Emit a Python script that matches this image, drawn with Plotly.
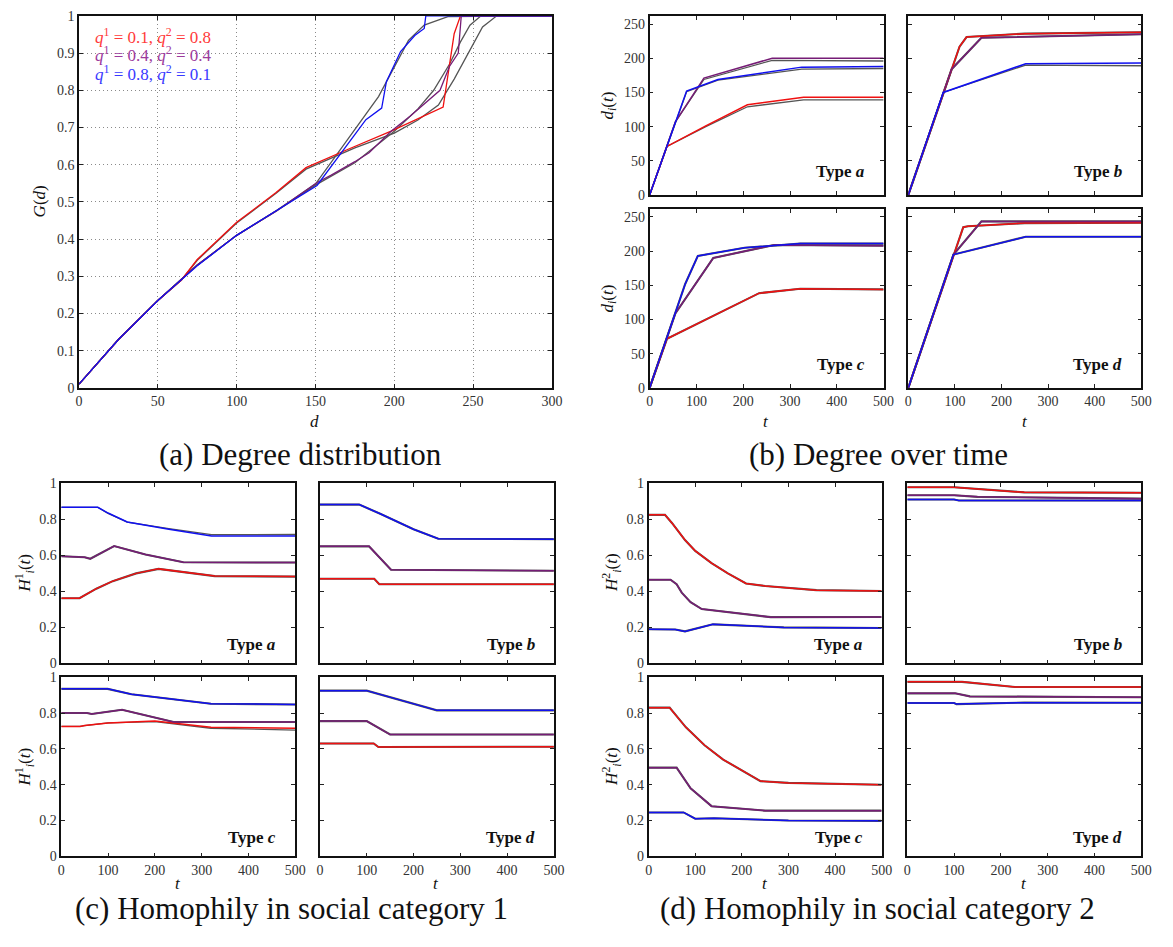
import plotly.graph_objects as go

W, H = 1173, 947
SERIF = "Liberation Serif, 'Times New Roman', Times, 'DejaVu Serif', serif"
RED, PURPLE, BLUE, SIM = "#f01010", "#761c76", "#1010f0", "#555555"

# ---------------- Panel (a): degree distribution G(d) ----------------
a_red_d = [0, 25, 50, 65, 75, 100, 125, 144, 170, 198, 231, 238, 242, 300]
a_red_G = [0.01, 0.13, 0.235, 0.29, 0.345, 0.445, 0.525, 0.592, 0.64, 0.69, 0.755, 0.952, 1.0, 1.0]
a_purple_d = [0, 25, 50, 75, 100, 125, 151, 160, 175, 184, 198, 210, 229, 235, 240.6, 242.5, 300]
a_purple_G = [0.01, 0.13, 0.235, 0.33, 0.41, 0.475, 0.552, 0.572, 0.608, 0.632, 0.69, 0.73, 0.80, 0.864, 0.90, 1.0, 1.0]
a_blue_d = [0, 25, 50, 75, 100, 125, 151, 182, 192, 195, 204, 213, 219, 220, 300]
a_blue_G = [0.01, 0.13, 0.235, 0.328, 0.41, 0.475, 0.544, 0.721, 0.752, 0.823, 0.904, 0.947, 0.966, 1.0, 1.0]
a_red_sim_d = [0, 25, 50, 65, 75, 100, 125, 144, 175, 200, 215, 228, 238, 248, 256, 265, 300]
a_red_sim_G = [0.01, 0.13, 0.235, 0.29, 0.343, 0.443, 0.523, 0.588, 0.645, 0.685, 0.72, 0.76, 0.83, 0.91, 0.97, 1.0, 1.0]
a_purple_sim_d = [0, 25, 50, 75, 100, 125, 150, 175, 200, 215, 225, 235, 242, 248, 255, 300]
a_purple_sim_G = [0.01, 0.13, 0.235, 0.33, 0.41, 0.475, 0.545, 0.605, 0.69, 0.75, 0.80, 0.87, 0.93, 0.975, 1.0, 1.0]
a_blue_sim_d = [0, 25, 50, 75, 100, 125, 150, 169, 190, 209, 219, 234, 300]
a_blue_sim_G = [0.01, 0.13, 0.235, 0.33, 0.41, 0.476, 0.548, 0.659, 0.783, 0.934, 0.975, 0.998, 1.0]

a_legend = ["<i>q</i><sup>1</sup> = 0.1, <i>q</i><sup>2</sup> = 0.8",
            "<i>q</i><sup>1</sup> = 0.4, <i>q</i><sup>2</sup> = 0.4",
            "<i>q</i><sup>1</sup> = 0.8, <i>q</i><sup>2</sup> = 0.1"]

# ---------------- Panel (b): degree over time d_i(t) ----------------
b_a_red_t, b_a_red_v = [0, 37, 120, 209, 329, 500], [0, 71, 101, 132, 143, 143]
b_a_red_sim = [0, 71, 100, 129, 139, 139]
b_a_purple_t, b_a_purple_v = [0, 55, 116, 262, 500], [0, 107, 171, 200, 200]
b_a_purple_sim = [0, 107, 169, 197, 196]
b_a_blue_t, b_a_blue_v = [0, 79, 146, 325, 500], [0, 152, 169, 187, 188]
b_a_blue_sim = [0, 151, 168, 184, 185]

b_b_red_t, b_b_red_v = [0, 75, 93, 110, 125, 250, 500], [0, 150, 184, 217, 231, 236, 238]
b_b_purple_t, b_b_purple_v = [0, 75, 93, 157, 500], [0, 150, 184, 230, 235]
b_b_blue_t, b_b_blue_v = [0, 75, 252, 500], [0, 150, 192, 193]
b_b_blue_sim = [0, 150, 190, 189]

b_c_red_t, b_c_red_v = [0, 37, 234, 322, 500], [0, 71.7, 138.5, 145, 144]
b_c_purple_t, b_c_purple_v = [0, 55, 136, 266, 500], [0, 109, 190, 209, 208]
b_c_blue_t, b_c_blue_v = [0, 76, 103, 203, 322, 500], [0, 152, 193, 205, 211, 211]

b_d_red_t, b_d_red_v = [0, 97, 118, 128, 250, 500], [0, 195, 235, 236.5, 241, 241.5]
b_d_purple_t, b_d_purple_v = [0, 97, 157, 500], [0, 195, 243.5, 243.5]
b_d_blue_t, b_d_blue_v = [0, 97, 252, 500], [0, 195, 221, 221]

# ---------------- Panel (c): homophily H_i^1(t) ----------------
c_a_red_t, c_a_red_v = [0, 39, 75, 110, 160, 208, 328, 500], [0.362, 0.362, 0.415, 0.457, 0.5, 0.525, 0.485, 0.482]
c_a_purple_t, c_a_purple_v = [0, 50, 62, 113, 180, 261, 500], [0.595, 0.59, 0.581, 0.652, 0.605, 0.562, 0.56]
c_a_blue_t, c_a_blue_v = [0, 78, 100, 141, 230, 321, 500], [0.867, 0.867, 0.835, 0.785, 0.745, 0.707, 0.707]
c_a_blue_sim = [0.867, 0.867, 0.833, 0.785, 0.748, 0.715, 0.716]

c_b_red_t, c_b_red_v = [0, 116, 127, 500], [0.47, 0.47, 0.44, 0.44]
c_b_purple_t, c_b_purple_v = [0, 105, 152, 500], [0.65, 0.65, 0.52, 0.515]
c_b_blue_t, c_b_blue_v = [0, 84, 130, 200, 253, 500], [0.882, 0.882, 0.83, 0.745, 0.692, 0.69]

c_c_red_t, c_c_red_v = [0, 40, 50, 100, 200, 320, 500], [0.725, 0.725, 0.73, 0.745, 0.755, 0.72, 0.715]
c_c_red_sim = [0.725, 0.725, 0.73, 0.745, 0.752, 0.715, 0.705]
c_c_purple_t, c_c_purple_v = [0, 55, 65, 130, 240, 500], [0.80, 0.80, 0.795, 0.818, 0.75, 0.75]
c_c_blue_t, c_c_blue_v = [0, 99, 150, 250, 320, 500], [0.935, 0.935, 0.905, 0.875, 0.852, 0.848]

c_d_red_t, c_d_red_v = [0, 115, 125, 500], [0.63, 0.63, 0.61, 0.612]
c_d_purple_t, c_d_purple_v = [0, 100, 150, 500], [0.755, 0.755, 0.68, 0.68]
c_d_blue_t, c_d_blue_v = [0, 100, 250, 500], [0.925, 0.925, 0.815, 0.815]

# ---------------- Panel (d): homophily H_i^2(t) ----------------
d_a_red_t = [0, 35, 50, 78, 100, 135, 170, 209, 250, 304, 360, 500]
d_a_red_v = [0.825, 0.825, 0.78, 0.685, 0.625, 0.557, 0.5, 0.444, 0.43, 0.417, 0.407, 0.402]
d_a_purple_t, d_a_purple_v = [0, 47, 60, 71, 90, 114, 262, 500], [0.465, 0.465, 0.44, 0.393, 0.34, 0.302, 0.257, 0.258]
d_a_blue_t, d_a_blue_v = [0, 57, 78, 138, 290, 500], [0.19, 0.188, 0.178, 0.217, 0.2, 0.197]

d_b_red_t, d_b_red_v = [0, 100, 250, 500], [0.978, 0.978, 0.95, 0.948]
d_b_purple_t, d_b_purple_v = [0, 100, 150, 500], [0.934, 0.934, 0.925, 0.915]
d_b_blue_t, d_b_blue_v = [0, 100, 110, 500], [0.91, 0.91, 0.905, 0.905]

d_c_red_t = [0, 45, 80, 120, 160, 200, 240, 300, 500]
d_c_red_v = [0.83, 0.83, 0.72, 0.62, 0.54, 0.48, 0.42, 0.41, 0.40]
d_c_purple_t, d_c_purple_v = [0, 60, 90, 135, 250, 500], [0.495, 0.495, 0.38, 0.28, 0.255, 0.255]
d_c_blue_t, d_c_blue_v = [0, 75, 100, 140, 300, 500], [0.245, 0.245, 0.21, 0.213, 0.2, 0.198]

d_d_red_t, d_d_red_v = [0, 117, 230, 500], [0.974, 0.974, 0.945, 0.945]
d_d_purple_t, d_d_purple_v = [0, 102, 134, 500], [0.91, 0.91, 0.893, 0.888]
d_d_blue_t, d_d_blue_v = [0, 100, 105, 250, 500], [0.856, 0.856, 0.85, 0.858, 0.857]

type_labels = ["a", "b", "c", "d"]
captions = ["(a) Degree distribution", "(b) Degree over time",
            "(c) Homophily in social category 1", "(d) Homophily in social category 2"]

# ---------------- layout helpers (pixel boxes) ----------------
def fx(p):
    return p / W

def fy(p):
    return 1 - p / H

boxes = [(76, 555, 9, 387)]
b_cols, b_rows = [(654, 891), (916, 1152)], [(9, 191), (205, 387)]
c_cols, cd_rows = [(58, 295), (320, 557)], [(484, 667), (681, 863)]
d_cols = [(653, 889), (915, 1152)]
for cols, rows in [(b_cols, b_rows), (c_cols, cd_rows), (d_cols, cd_rows)]:
    for r in rows:
        for c in cols:
            boxes.append((c[0], c[1], r[0], r[1]))

fig = go.Figure()

def add_line(idx, x, y, color, width=1.5):
    suf = "" if idx == 1 else str(idx)
    fig.add_trace(go.Scatter(x=x, y=y, mode="lines", xaxis="x" + suf, yaxis="y" + suf,
                             line=dict(color=color, width=width), showlegend=False,
                             hoverinfo="skip"))

# panel (a)
add_line(1, a_red_sim_d, a_red_sim_G, SIM, 1.3)
add_line(1, a_purple_sim_d, a_purple_sim_G, SIM, 1.3)
add_line(1, a_blue_sim_d, a_blue_sim_G, SIM, 1.3)
add_line(1, a_red_d, a_red_G, RED, 1.3)
add_line(1, a_purple_d, a_purple_G, PURPLE, 1.3)
add_line(1, a_blue_d, a_blue_G, BLUE, 1.3)

small = [
    (2, [(b_a_red_t, b_a_red_v, RED, b_a_red_sim), (b_a_purple_t, b_a_purple_v, PURPLE, b_a_purple_sim), (b_a_blue_t, b_a_blue_v, BLUE, b_a_blue_sim)]),
    (3, [(b_b_red_t, b_b_red_v, RED, None), (b_b_purple_t, b_b_purple_v, PURPLE, None), (b_b_blue_t, b_b_blue_v, BLUE, b_b_blue_sim)]),
    (4, [(b_c_red_t, b_c_red_v, RED, None), (b_c_purple_t, b_c_purple_v, PURPLE, None), (b_c_blue_t, b_c_blue_v, BLUE, None)]),
    (5, [(b_d_red_t, b_d_red_v, RED, None), (b_d_purple_t, b_d_purple_v, PURPLE, None), (b_d_blue_t, b_d_blue_v, BLUE, None)]),
    (6, [(c_a_red_t, c_a_red_v, RED, None), (c_a_purple_t, c_a_purple_v, PURPLE, None), (c_a_blue_t, c_a_blue_v, BLUE, c_a_blue_sim)]),
    (7, [(c_b_red_t, c_b_red_v, RED, None), (c_b_purple_t, c_b_purple_v, PURPLE, None), (c_b_blue_t, c_b_blue_v, BLUE, None)]),
    (8, [(c_c_red_t, c_c_red_v, RED, c_c_red_sim), (c_c_purple_t, c_c_purple_v, PURPLE, None), (c_c_blue_t, c_c_blue_v, BLUE, None)]),
    (9, [(c_d_red_t, c_d_red_v, RED, None), (c_d_purple_t, c_d_purple_v, PURPLE, None), (c_d_blue_t, c_d_blue_v, BLUE, None)]),
    (10, [(d_a_red_t, d_a_red_v, RED, None), (d_a_purple_t, d_a_purple_v, PURPLE, None), (d_a_blue_t, d_a_blue_v, BLUE, None)]),
    (11, [(d_b_red_t, d_b_red_v, RED, None), (d_b_purple_t, d_b_purple_v, PURPLE, None), (d_b_blue_t, d_b_blue_v, BLUE, None)]),
    (12, [(d_c_red_t, d_c_red_v, RED, None), (d_c_purple_t, d_c_purple_v, PURPLE, None), (d_c_blue_t, d_c_blue_v, BLUE, None)]),
    (13, [(d_d_red_t, d_d_red_v, RED, None), (d_d_purple_t, d_d_purple_v, PURPLE, None), (d_d_blue_t, d_d_blue_v, BLUE, None)]),
]
for idx, series in small:
    for t, v, col, sim in series:
        add_line(idx, t, sim if sim is not None else v, SIM, 2.1 if sim is None else 1.3)
    for t, v, col, sim in series:
        add_line(idx, t, v, col, 1.5)

tickfont = dict(family=SERIF, size=14, color="#333333")

def axis(dom, rng, dtick, labels, grid=False):
    return dict(domain=dom, range=rng, tickmode="linear", tick0=0, dtick=dtick,
                showticklabels=labels, ticks="inside", ticklen=4, tickwidth=1,
                tickcolor="#222", showline=True, linecolor="#111", linewidth=1.5,
                mirror="ticks", showgrid=grid, gridcolor="#8a8a8a", griddash="1px,3px",
                gridwidth=1, zeroline=False, tickfont=tickfont, fixedrange=True)

layout_axes = {}
for i, (x0, x1, yt, yb) in enumerate(boxes, start=1):
    suf = "" if i == 1 else str(i)
    xd = [fx(x0), fx(x1)]
    yd = [fy(yb), fy(yt)]
    if i == 1:
        xa = axis(xd, [0, 300], 50, True, True)
        ya = axis(yd, [0, 1], 0.1, True, True)
    else:
        k = (i - 2) % 4
        bottom = k >= 2
        left = k % 2 == 0
        if i <= 5:
            yr, ydt = [0, 262], 50
        else:
            yr, ydt = [0, 1], 0.2
        xa = axis(xd, [0, 500], 100, bottom)
        ya = axis(yd, yr, ydt, left)
    xa["anchor"] = "y" + suf
    ya["anchor"] = "x" + suf
    layout_axes["xaxis" + suf] = xa
    layout_axes["yaxis" + suf] = ya

ann = []

def text(x, y, s, size, color="#111", angle=0, xanchor="center", bold=False):
    if bold:
        s = "<b>" + s + "</b>"
    ann.append(dict(x=fx(x), y=fy(y), xref="paper", yref="paper", text=s, showarrow=False,
                    font=dict(family=SERIF, size=size, color=color), textangle=angle,
                    xanchor=xanchor, yanchor="middle"))

# legend text in (a)
for s, col, yy in zip(a_legend, ["#ff3a3a", "#9c3a9c", "#3a3aff"], [29, 48, 67]):
    text(90, yy, s, 17, col, xanchor="left")

# axis titles
text(36, 198, "<i>G</i>(<i>d</i>)", 17, angle=-90)
text(315, 421, "<i>d</i>", 17)
for yc in [100, 296]:
    text(613, yc, "<i>d<sub>i</sub></i>(<i>t</i>)", 17, angle=-90)
for xc in [772, 1034]:
    text(xc, 421, "<i>t</i>", 17)
for yc in [575, 772]:
    text(21, yc, "<i>H</i><sup>1</sup><sub><i>i</i></sub>(<i>t</i>)", 17, angle=-90)
    text(616, yc, "<i>H</i><sup>2</sup><sub><i>i</i></sub>(<i>t</i>)", 17, angle=-90)
for xc in [176, 438, 771, 1033]:
    text(xc, 891, "<i>t</i>", 17)

# Type labels
for cols, rows, offs in [(b_cols, b_rows, 24), (c_cols, cd_rows, 19), (d_cols, cd_rows, 19)]:
    k = 0
    for r in rows:
        for c in cols:
            text(c[1] - 17, r[1] - offs, "Type <i>" + type_labels[k] + "</i>", 17,
                 xanchor="right", bold=True)
            k += 1

# captions
for s, (xc, yc) in zip(captions, [(300, 455), (886, 455), (291, 916), (885, 916)]):
    text(xc, yc, s, 31)

fig.update_layout(width=W, height=H, margin=dict(l=0, r=0, t=0, b=0),
                  paper_bgcolor="white", plot_bgcolor="white",
                  annotations=ann, **layout_axes)
fig.write_html("out.html")
